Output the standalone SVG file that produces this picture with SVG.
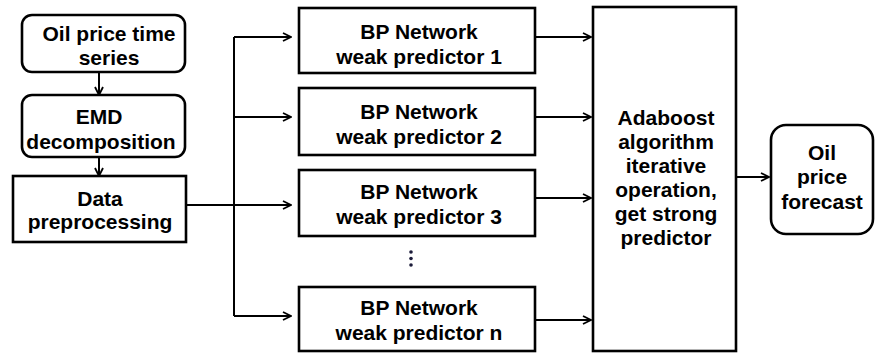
<svg xmlns="http://www.w3.org/2000/svg" width="875" height="354" viewBox="0 0 875 354">
  <style>
    .box { fill: #ffffff; stroke: #000000; stroke-width: 2.6; }
    .lbl { font-family: "Liberation Sans", Arial, sans-serif; font-weight: bold; font-size: 21px; fill: #000000; text-anchor: middle; }
    .conn { fill: none; stroke: #000000; stroke-width: 2; }
  </style>
  <defs>
    <marker id="arrow" markerUnits="userSpaceOnUse" viewBox="0 0 10 10" markerWidth="10" markerHeight="10" refX="9" refY="5" orient="auto">
      <path d="M1,1 L9,5 L1,9" fill="none" stroke="#000000" stroke-width="1.8"/>
    </marker>
  </defs>

  <rect width="875" height="354" fill="#ffffff"/>

  <!-- connectors -->
  <g id="connectors">
    <path class="conn" d="M99,72 V95" marker-end="url(#arrow)"/>
    <path class="conn" d="M99,157 V176" marker-end="url(#arrow)"/>
    <path class="conn" d="M186,205 H291" marker-end="url(#arrow)"/>
    <path class="conn" d="M234,37 V316"/>
    <path class="conn" d="M234,37 H291" marker-end="url(#arrow)"/>
    <path class="conn" d="M234,117 H291" marker-end="url(#arrow)"/>
    <path class="conn" d="M234,316 H291" marker-end="url(#arrow)"/>
    <path class="conn" d="M535,37 H591" marker-end="url(#arrow)"/>
    <path class="conn" d="M535,117 H591" marker-end="url(#arrow)"/>
    <path class="conn" d="M535,198 H591" marker-end="url(#arrow)"/>
    <path class="conn" d="M535,320 H591" marker-end="url(#arrow)"/>
    <path class="conn" d="M736,177 H769" marker-end="url(#arrow)"/>
  </g>

  <g id="oil-series">
    <rect class="box" x="22" y="15" width="163" height="57" rx="10"/>
    <text class="lbl" x="109" y="41">Oil price time</text>
    <text class="lbl" x="109" y="65">series</text>
  </g>

  <g id="emd">
    <rect class="box" x="22" y="95" width="163" height="62" rx="10"/>
    <text class="lbl" x="99" y="124">EMD</text>
    <text class="lbl" x="101" y="149">decomposition</text>
  </g>

  <g id="preprocess">
    <rect class="box" x="13" y="176" width="173" height="66"/>
    <text class="lbl" x="100" y="206">Data</text>
    <text class="lbl" x="100" y="229">preprocessing</text>
  </g>

  <g id="bp1">
    <rect class="box" x="299" y="8" width="236" height="65"/>
    <text class="lbl" x="419" y="39">BP Network</text>
    <text class="lbl" x="419" y="64">weak predictor 1</text>
  </g>

  <g id="bp2">
    <rect class="box" x="299" y="88" width="236" height="67"/>
    <text class="lbl" x="419" y="119">BP Network</text>
    <text class="lbl" x="419" y="144">weak predictor 2</text>
  </g>

  <g id="bp3">
    <rect class="box" x="299" y="170" width="236" height="66"/>
    <text class="lbl" x="419" y="199">BP Network</text>
    <text class="lbl" x="419" y="224">weak predictor 3</text>
  </g>

  <g id="ellipsis" fill="#1c1c3a">
    <circle cx="411" cy="252" r="1.8"/>
    <circle cx="411" cy="258.5" r="1.8"/>
    <circle cx="411" cy="265" r="1.8"/>
  </g>

  <g id="bpn">
    <rect class="box" x="299" y="287" width="236" height="64"/>
    <text class="lbl" x="419" y="315">BP Network</text>
    <text class="lbl" x="419" y="340">weak predictor n</text>
  </g>

  <g id="adaboost">
    <rect class="box" x="593" y="7" width="143" height="344"/>
    <text class="lbl" x="666" y="125">Adaboost</text>
    <text class="lbl" x="666" y="149">algorithm</text>
    <text class="lbl" x="666" y="173">iterative</text>
    <text class="lbl" x="666" y="197">operation,</text>
    <text class="lbl" x="666" y="221">get strong</text>
    <text class="lbl" x="666" y="245">predictor</text>
  </g>

  <g id="forecast">
    <rect class="box" x="771" y="125" width="102" height="109" rx="15"/>
    <text class="lbl" x="822" y="160">Oil</text>
    <text class="lbl" x="822" y="184">price</text>
    <text class="lbl" x="822" y="209">forecast</text>
  </g>
</svg>
